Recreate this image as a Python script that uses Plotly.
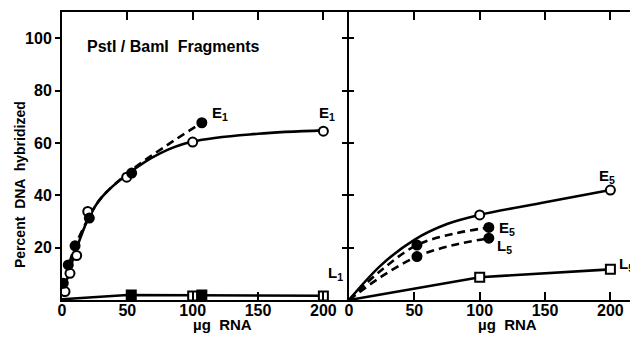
import plotly.graph_objects as go

# ---- Left panel (PstI / BamI fragments) ----
# measured points
e1_open_x = [2.3, 6.1, 11.2, 19.7, 49.5, 100, 200]
e1_open_y = [3.2, 10.2, 17.0, 33.8, 46.9, 60.3, 64.5]
e1_fill_x = [1.0, 4.8, 10.0, 20.9, 53.3, 107]
e1_fill_y = [6.4, 13.4, 20.7, 31.3, 48.5, 67.7]
# curves as drawn
e1_solid_cx = [1, 5, 10, 20, 30, 50, 75, 100, 150, 200]
e1_solid_cy = [2.5, 10, 18, 31, 39, 48, 56, 60.5, 63.5, 64.8]
e1_dash_cx = [0.5, 5, 10, 20, 30, 53, 80, 107]
e1_dash_cy = [5, 13, 20.5, 31, 39, 49.5, 59, 67.7]

l1_open_x = [100, 200]
l1_open_y = [1.5, 1.5]
l1_fill_x = [53, 107]
l1_fill_y = [1.9, 1.9]
l1_line_x = [0, 50, 100, 200]
l1_line_y = [0.3, 1.9, 1.8, 1.6]

# ---- Right panel ----
e5_open_x = [100, 200]
e5_open_y = [32.5, 42.0]
e5_solid_cx = [0, 25, 50, 75, 100, 150, 200]
e5_solid_cy = [0, 13.5, 23, 29, 32.5, 37.3, 42.0]
e5_fill_x = [52, 107]
e5_fill_y = [21.0, 27.7]
e5_dash_cx = [0, 25, 52, 80, 107]
e5_dash_cy = [0, 11.5, 21.0, 25.3, 27.7]
l5_fill_x = [52, 107]
l5_fill_y = [16.6, 23.6]
l5_dash_cx = [0, 25, 52, 80, 107]
l5_dash_cy = [0, 9, 16.6, 21, 23.6]
l5_open_x = [100, 200]
l5_open_y = [8.7, 11.7]
l5_line_x = [0, 100, 200]
l5_line_y = [0, 8.7, 11.7]

x_ticks = [0, 50, 100, 150, 200]
y_ticks = [20, 40, 60, 80, 100]

BLK = "black"
LW = 2.6
fig = go.Figure()


def line(x, y, xa, ya, dash="solid", shape="spline"):
    fig.add_trace(go.Scatter(x=x, y=y, mode="lines", xaxis=xa, yaxis=ya,
                             line=dict(color=BLK, width=LW, dash=dash, shape=shape, smoothing=1.0),
                             hoverinfo="skip", showlegend=False))


def marks(x, y, xa, ya, symbol, filled):
    fig.add_trace(go.Scatter(x=x, y=y, mode="markers", xaxis=xa, yaxis=ya,
                             marker=dict(symbol=symbol, size=9,
                                         color=BLK if filled else "white",
                                         line=dict(color=BLK, width=2)),
                             showlegend=False))


DASH = "8px,5px"
# left
line(e1_solid_cx, e1_solid_cy, "x", "y")
line(e1_dash_cx, e1_dash_cy, "x", "y", dash=DASH)
line(l1_line_x, l1_line_y, "x", "y", shape="linear")
marks(e1_open_x, e1_open_y, "x", "y", "circle", False)
marks(e1_fill_x, e1_fill_y, "x", "y", "circle", True)
marks(l1_open_x, l1_open_y, "x", "y", "square", False)
marks(l1_fill_x, l1_fill_y, "x", "y", "square", True)
# right
line(e5_solid_cx, e5_solid_cy, "x2", "y2")
line(e5_dash_cx, e5_dash_cy, "x2", "y2", dash=DASH)
line(l5_dash_cx, l5_dash_cy, "x2", "y2", dash=DASH)
line(l5_line_x, l5_line_y, "x2", "y2", shape="linear")
marks(e5_open_x, e5_open_y, "x2", "y2", "circle", False)
marks(e5_fill_x, e5_fill_y, "x2", "y2", "circle", True)
marks(l5_fill_x, l5_fill_y, "x2", "y2", "circle", True)
marks(l5_open_x, l5_open_y, "x2", "y2", "square", False)

FONT = "Liberation Sans"
tickfont = dict(family=FONT, size=16, color=BLK, weight="bold")
ax_common = dict(showgrid=False, zeroline=False, linecolor=BLK,
                 linewidth=2, tickcolor=BLK, tickwidth=2, tickfont=tickfont,
                 automargin=False)

W, H = 630, 337
ML, MR, MT, MB = 62, 0, 12, 37
PW, PH = W - ML - MR, H - MT - MB
split = (349 - ML) / PW
fig.update_layout(
    width=W, height=H,
    margin=dict(l=ML, r=MR, t=MT, b=MB),
    paper_bgcolor="white", plot_bgcolor="white",
    xaxis=dict(domain=[0, split], range=[0, 219.6], tickvals=x_ticks,
               ticks="inside", ticklen=8, mirror="ticks", anchor="y", showline=True,
               ticklabelstandoff=-5, **ax_common),
    yaxis=dict(range=[0, 110], tickvals=y_ticks, ticks="outside", ticklen=5,
               mirror=False, showline=True, anchor="x", **ax_common),
    xaxis2=dict(domain=[split, 1], range=[0, 215], tickvals=x_ticks,
                ticks="inside", ticklen=8, mirror="ticks", anchor="y2", showline=True,
                ticklabelstandoff=-5, **ax_common),
    yaxis2=dict(range=[0, 110], tickvals=y_ticks, ticks="outside", ticklen=5,
                showline=True, showticklabels=False, anchor="x2", **ax_common),
    yaxis3=dict(range=[0, 110], tickvals=y_ticks, ticks="inside", ticklen=5,
                overlaying="y2", anchor="x2", side="left", showline=False,
                showticklabels=False, **ax_common),
)
# invisible trace to keep the overlay axis (ticks right of the shared border)
fig.add_trace(go.Scatter(x=[0], y=[0], xaxis="x2", yaxis="y3", mode="markers",
                         marker=dict(size=0.1, opacity=0), hoverinfo="skip", showlegend=False))


def px(x):
    return (x - ML) / PW


def py(y):
    return (H - MB - y) / PH


lab = dict(family=FONT, size=15, color=BLK, weight="bold")
ann = [
    dict(text="PstI / BamI  Fragments", x=85, y=46, xanchor="left", size=16),
    dict(text="E<sub>1</sub>", x=210, y=114, xanchor="left"),
    dict(text="E<sub>1</sub>", x=317, y=114, xanchor="left"),
    dict(text="L<sub>1</sub>", x=326, y=273, xanchor="left"),
    dict(text="E<sub>5</sub>", x=597, y=176, xanchor="left"),
    dict(text="E<sub>5</sub>", x=497, y=228, xanchor="left"),
    dict(text="L<sub>5</sub>", x=495, y=246, xanchor="left"),
    dict(text="L<sub>5</sub>", x=617, y=264, xanchor="left"),
    dict(text="µg  RNA", x=222, y=324, xanchor="center"),
    dict(text="µg  RNA", x=507, y=324, xanchor="center"),
]
for a in ann:
    f = dict(lab)
    if "size" in a:
        f["size"] = a["size"]
    fig.add_annotation(text=a["text"], x=px(a["x"]), y=py(a["y"]),
                       xref="paper", yref="paper", xanchor=a["xanchor"], yanchor="middle",
                       showarrow=False, font=f)
fig.add_annotation(text="Percent  DNA  hybridized", x=px(20), y=py(185),
                   xref="paper", yref="paper", textangle=-90, showarrow=False,
                   xanchor="center", yanchor="middle",
                   font=dict(family=FONT, size=14, color=BLK, weight="bold"))

fig.write_html("out.html", config={"displayModeBar": False},
               post_script="document.body.style.margin='0';document.body.style.overflow='hidden';")
